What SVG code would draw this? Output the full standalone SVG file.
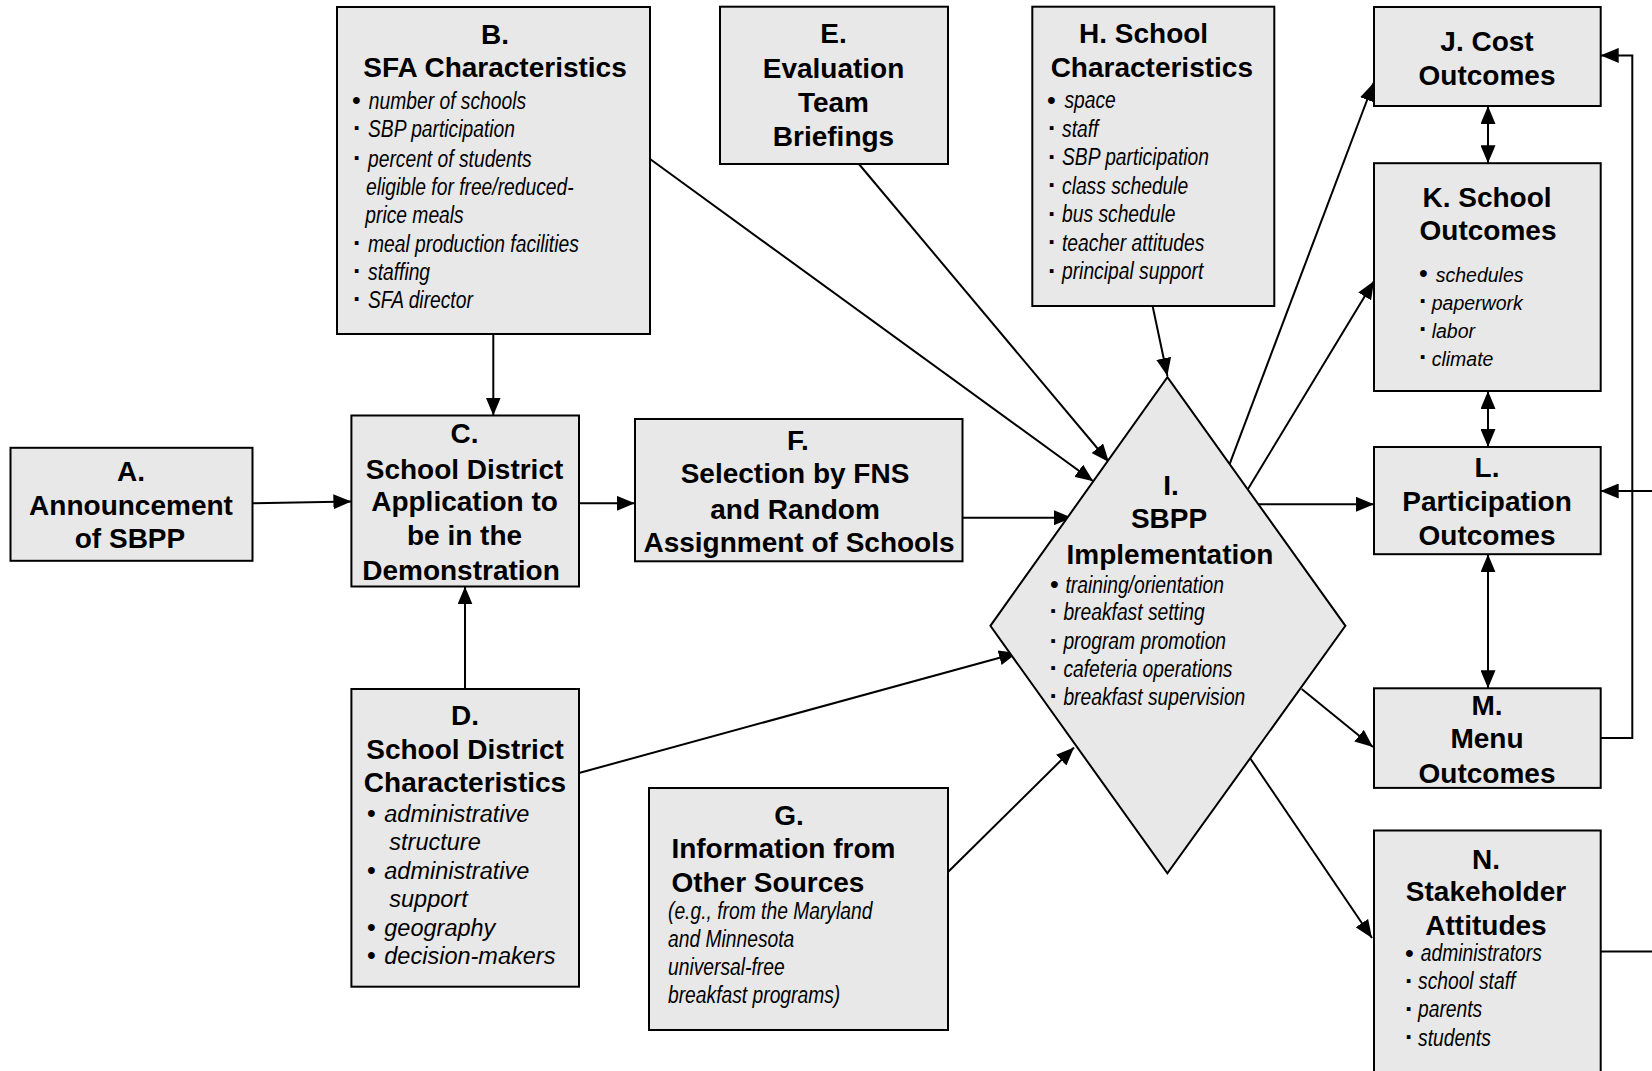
<svg xmlns="http://www.w3.org/2000/svg" width="1652" height="1071" viewBox="0 0 1652 1071">
<defs>
<style>
.box{fill:#e8e8e8;stroke:#000;stroke-width:2}
.t{font-family:"Liberation Sans",Arial,sans-serif;font-weight:bold;font-size:28px;text-anchor:middle;fill:#000}
.tl{font-family:"Liberation Sans",Arial,sans-serif;font-weight:bold;font-size:28px;fill:#000}
.n{font-family:"Liberation Sans",Arial,sans-serif;font-style:italic;font-size:23.5px;fill:#000}
.r{font-family:"Liberation Sans",Arial,sans-serif;font-style:italic;font-size:23.5px;fill:#000}
.k{font-family:"Liberation Sans",Arial,sans-serif;font-style:italic;font-size:19.5px;fill:#000}
.b{font-family:"Liberation Sans",Arial,sans-serif;font-size:25px;fill:#000}
.s{font-family:"Liberation Sans",Arial,sans-serif;font-size:26px;font-weight:bold;fill:#000}
.c{fill:none;stroke:#000;stroke-width:2}
</style>
<marker id="ah" viewBox="0 0 18 15" refX="18" refY="7.5" markerWidth="18" markerHeight="15" markerUnits="userSpaceOnUse" orient="auto-start-reverse">
<path d="M0,0 L18,7.5 L0,15 z" fill="#000"/>
</marker>
</defs>
<rect width="1652" height="1071" fill="#fff"/>

<g id="connectors">
<path class="c" d="M252.5,503.3 L351.4,501.4" marker-end="url(#ah)"/>
<path class="c" d="M493.3,334 L493.3,415.5" marker-end="url(#ah)"/>
<path class="c" d="M465,689 L465,586.4" marker-end="url(#ah)"/>
<path class="c" d="M579,503.3 L634.8,503.3" marker-end="url(#ah)"/>
<path class="c" d="M649,158.3 L1093.3,481.3" marker-end="url(#ah)"/>
<path class="c" d="M858.9,164 L1108.9,462" marker-end="url(#ah)"/>
<path class="c" d="M1152.6,306 L1167.4,376" marker-end="url(#ah)"/>
<path class="c" d="M962.5,517.7 L1072,517.7" marker-end="url(#ah)"/>
<path class="c" d="M579,773 L1017,653" marker-end="url(#ah)"/>
<path class="c" d="M948,872 L1074,747.5" marker-end="url(#ah)"/>
<path class="c" d="M1229.6,464.2 L1373.5,83" marker-end="url(#ah)"/>
<path class="c" d="M1247.4,490 L1374,281" marker-end="url(#ah)"/>
<path class="c" d="M1259,504.3 L1374,504.3" marker-end="url(#ah)"/>
<path class="c" d="M1301.7,689 L1373,747" marker-end="url(#ah)"/>
<path class="c" d="M1250,758 L1372,938" marker-end="url(#ah)"/>
<path class="c" d="M1488,106 L1488,163.2" marker-start="url(#ah)" marker-end="url(#ah)"/>
<path class="c" d="M1488,391 L1488,447" marker-start="url(#ah)" marker-end="url(#ah)"/>
<path class="c" d="M1488,554.2 L1488,688.3" marker-start="url(#ah)" marker-end="url(#ah)"/>
<path class="c" d="M1600.7,738.1 L1632.3,738.1 L1632.3,55.4 L1600.7,55.4" marker-end="url(#ah)"/>
<path class="c" d="M1600.7,951.4 L1652,951.4"/>
<path class="c" d="M1652,491 L1600.7,491" marker-end="url(#ah)"/>
</g>

<g id="nodeA">
<rect class="box" x="10.5" y="447.8" width="242" height="113"/>
<text class="t" x="131" y="481">A.</text>
<text class="t" x="131" y="514.8">Announcement</text>
<text class="t" x="130" y="548">of SBPP</text>
</g>

<g id="nodeB">
<rect class="box" x="337" y="7" width="313" height="327"/>
<text class="t" x="495" y="43.5">B.</text>
<text class="t" x="495" y="77.3">SFA Characteristics</text>
<text class="b"><tspan x="352" y="109">•</tspan></text>
<text class="s"><tspan x="353" y="137.3">·</tspan><tspan x="353" y="166.7">·</tspan><tspan x="353" y="251.7">·</tspan><tspan x="353" y="280">·</tspan><tspan x="353" y="308.3">·</tspan></text>
<text class="n" transform="translate(368 0) scale(0.82 1)"><tspan x="1" y="109">number of schools</tspan><tspan x="0" y="137.3">SBP participation</tspan><tspan x="0" y="166.7">percent of students</tspan><tspan x="-2.4" y="195">eligible for free/reduced-</tspan><tspan x="-3.3" y="223.3">price meals</tspan><tspan x="0" y="251.7">meal production facilities</tspan><tspan x="0" y="280">staffing</tspan><tspan x="0" y="308.3">SFA director</tspan></text>
</g>

<g id="nodeC">
<rect class="box" x="351.4" y="415.5" width="227.6" height="171"/>
<text class="t" x="464.5" y="443">C.</text>
<text class="t" x="464.5" y="478.5">School District</text>
<text class="t" x="464.5" y="511">Application to</text>
<text class="t" x="464.5" y="544.7">be in the</text>
<text class="t" x="461" y="580">Demonstration</text>
</g>

<g id="nodeD">
<rect class="box" x="351.4" y="689" width="227.6" height="297.7"/>
<text class="t" x="465" y="725.3">D.</text>
<text class="t" x="465" y="758.6">School District</text>
<text class="t" x="465" y="792.3">Characteristics</text>
<text class="b"><tspan x="367" y="821.7">•</tspan><tspan x="367" y="879.1">•</tspan><tspan x="367" y="935.8">•</tspan><tspan x="367" y="963.7">•</tspan></text>
<text class="r"><tspan x="384.3" y="821.7">administrative</tspan><tspan x="389.3" y="849.7">structure</tspan><tspan x="384.3" y="879.1">administrative</tspan><tspan x="389.3" y="907">support</tspan><tspan x="384.3" y="935.8">geography</tspan><tspan x="384.3" y="963.7">decision-makers</tspan></text>
</g>

<g id="nodeE">
<rect class="box" x="720" y="6.7" width="228" height="157.3"/>
<text class="t" x="833.5" y="43.3">E.</text>
<text class="t" x="833.5" y="78.3">Evaluation</text>
<text class="t" x="833.5" y="111.7">Team</text>
<text class="t" x="833.5" y="145.7">Briefings</text>
</g>

<g id="nodeF">
<rect class="box" x="635" y="419" width="327.5" height="142.3"/>
<text class="t" x="798" y="450">F.</text>
<text class="t" x="795" y="483.4">Selection by FNS</text>
<text class="t" x="795" y="518.5">and Random</text>
<text class="t" x="799" y="552">Assignment of Schools</text>
</g>

<g id="nodeG">
<rect class="box" x="649" y="788" width="299" height="242"/>
<text class="t" x="789" y="825">G.</text>
<text class="tl" x="671.4" y="857.8">Information from</text>
<text class="tl" x="671.4" y="892">Other Sources</text>
<text class="n" transform="translate(668 0) scale(0.82 1)"><tspan x="0" y="919">(e.g., from the Maryland</tspan><tspan x="0" y="947.5">and Minnesota</tspan><tspan x="0" y="975.5">universal-free</tspan><tspan x="0" y="1003.5">breakfast programs)</tspan></text>
</g>

<g id="nodeH">
<rect class="box" x="1032.3" y="6.7" width="242" height="299.3"/>
<text class="t" x="1143.6" y="43.3">H. School</text>
<text class="t" x="1151.8" y="77.3">Characteristics</text>
<text class="b"><tspan x="1047" y="108.5">•</tspan></text>
<text class="s"><tspan x="1048" y="137">·</tspan><tspan x="1048" y="165.5">·</tspan><tspan x="1048" y="194">·</tspan><tspan x="1048" y="222.5">·</tspan><tspan x="1048" y="251">·</tspan><tspan x="1048" y="279.5">·</tspan></text>
<text class="n" transform="translate(1062 0) scale(0.82 1)"><tspan x="3" y="108.5">space</tspan><tspan x="0" y="137">staff</tspan><tspan x="0" y="165.5">SBP participation</tspan><tspan x="0" y="194">class schedule</tspan><tspan x="0" y="222.5">bus schedule</tspan><tspan x="0" y="251">teacher attitudes</tspan><tspan x="0" y="279.5">principal support</tspan></text>
</g>

<g id="nodeI">
<polygon class="box" points="1167.4,377.2 1345.4,625.8 1167.4,873.4 990.4,625.8"/>
<text class="t" x="1171" y="495">I.</text>
<text class="t" x="1169" y="528.4">SBPP</text>
<text class="t" x="1170" y="563.5">Implementation</text>
<text class="b"><tspan x="1050" y="592.6">•</tspan></text>
<text class="s"><tspan x="1049.5" y="620.4">·</tspan><tspan x="1049.5" y="649.5">·</tspan><tspan x="1049.5" y="677.3">·</tspan><tspan x="1049.5" y="705.1">·</tspan></text>
<text class="n" transform="translate(1063.4 0) scale(0.82 1)"><tspan x="2.5" y="592.6">training/orientation</tspan><tspan x="0" y="620.4">breakfast setting</tspan><tspan x="0" y="649.5">program promotion</tspan><tspan x="0" y="677.3">cafeteria operations</tspan><tspan x="0" y="705.1">breakfast supervision</tspan></text>
</g>

<g id="nodeJ">
<rect class="box" x="1374" y="7" width="226.7" height="99"/>
<text class="t" x="1487" y="50.5">J. Cost</text>
<text class="t" x="1487" y="85">Outcomes</text>
</g>

<g id="nodeK">
<rect class="box" x="1374" y="163.2" width="226.7" height="227.8"/>
<text class="t" x="1487" y="207">K. School</text>
<text class="t" x="1488" y="239.5">Outcomes</text>
<text class="b"><tspan x="1419" y="282">•</tspan></text>
<text class="s"><tspan x="1419" y="310">·</tspan><tspan x="1419" y="337.5">·</tspan><tspan x="1419" y="366">·</tspan></text>
<text class="k"><tspan x="1435.7" y="282">schedules</tspan><tspan x="1431.7" y="310">paperwork</tspan><tspan x="1431.7" y="337.5">labor</tspan><tspan x="1431.7" y="366">climate</tspan></text>
</g>

<g id="nodeL">
<rect class="box" x="1374" y="447" width="226.7" height="107.2"/>
<text class="t" x="1487" y="477">L.</text>
<text class="t" x="1487" y="510.5">Participation</text>
<text class="t" x="1487" y="544.5">Outcomes</text>
</g>

<g id="nodeM">
<rect class="box" x="1374" y="688.3" width="226.7" height="99.6"/>
<text class="t" x="1487" y="714.5">M.</text>
<text class="t" x="1487" y="748">Menu</text>
<text class="t" x="1487" y="783">Outcomes</text>
</g>

<g id="nodeN">
<rect class="box" x="1374" y="830.5" width="226.7" height="260"/>
<text class="t" x="1486" y="868.5">N.</text>
<text class="t" x="1486" y="901">Stakeholder</text>
<text class="t" x="1486" y="934.5">Attitudes</text>
<text class="b"><tspan x="1405" y="961.5">•</tspan></text>
<text class="s"><tspan x="1405" y="989.5">·</tspan><tspan x="1405" y="1017.5">·</tspan><tspan x="1405" y="1046">·</tspan></text>
<text class="n" transform="translate(1418 0) scale(0.82 1)"><tspan x="3.5" y="961.5">administrators</tspan><tspan x="0" y="989.5">school staff</tspan><tspan x="0" y="1017.5">parents</tspan><tspan x="0" y="1046">students</tspan></text>
</g>
</svg>
